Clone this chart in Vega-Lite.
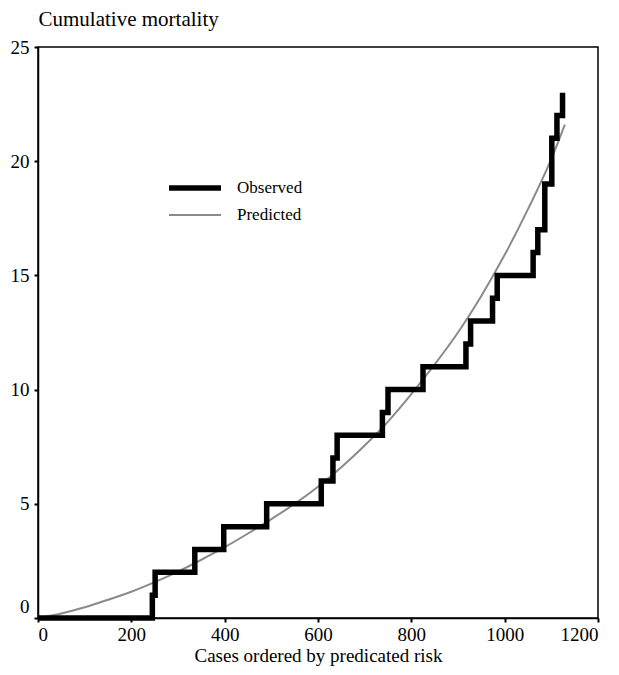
{
  "$schema": "https://vega.github.io/schema/vega-lite/v6.json",
  "autosize": "none",
  "width": 560,
  "height": 571,
  "padding": {"left": 38, "top": 47, "right": 21, "bottom": 57},
  "background": "white",
  "config": {
    "view": {"stroke": "black", "strokeWidth": 1.5},
    "font": "Liberation Serif",
    "axis": {"grid": false, "domainColor": "black", "domainWidth": 1.5, "tickColor": "black", "tickWidth": 2, "tickSize": 4, "labelColor": "black", "titleColor": "black", "labelFont": "Liberation Serif", "titleFont": "Liberation Serif", "labelFontSize": 19, "titleFontSize": 19, "titleFontWeight": "normal"},
    "legend": {"labelFont": "Liberation Serif", "labelFontSize": 17, "labelColor": "black"}
  },
  "datasets": {
    "obs": [
      {"series": "Observed", "x": 0, "y": 0},
      {"series": "Observed", "x": 245, "y": 1},
      {"series": "Observed", "x": 251, "y": 2},
      {"series": "Observed", "x": 336, "y": 3},
      {"series": "Observed", "x": 398, "y": 4},
      {"series": "Observed", "x": 490, "y": 5},
      {"series": "Observed", "x": 607, "y": 6},
      {"series": "Observed", "x": 632, "y": 7},
      {"series": "Observed", "x": 641, "y": 8},
      {"series": "Observed", "x": 738, "y": 9},
      {"series": "Observed", "x": 750, "y": 10},
      {"series": "Observed", "x": 825, "y": 11},
      {"series": "Observed", "x": 917, "y": 12},
      {"series": "Observed", "x": 927, "y": 13},
      {"series": "Observed", "x": 974, "y": 14},
      {"series": "Observed", "x": 984, "y": 15},
      {"series": "Observed", "x": 1061, "y": 16},
      {"series": "Observed", "x": 1071, "y": 17},
      {"series": "Observed", "x": 1086, "y": 19},
      {"series": "Observed", "x": 1101, "y": 21},
      {"series": "Observed", "x": 1112, "y": 22},
      {"series": "Observed", "x": 1124, "y": 23}
    ],
    "pred": [
      {"series": "Predicted", "x": 0, "y": 0},
      {"series": "Predicted", "x": 50, "y": 0.2},
      {"series": "Predicted", "x": 100, "y": 0.47},
      {"series": "Predicted", "x": 150, "y": 0.8},
      {"series": "Predicted", "x": 200, "y": 1.15},
      {"series": "Predicted", "x": 250, "y": 1.57},
      {"series": "Predicted", "x": 300, "y": 2.03},
      {"series": "Predicted", "x": 350, "y": 2.55},
      {"series": "Predicted", "x": 400, "y": 3.1},
      {"series": "Predicted", "x": 450, "y": 3.7},
      {"series": "Predicted", "x": 500, "y": 4.33},
      {"series": "Predicted", "x": 550, "y": 5.0},
      {"series": "Predicted", "x": 600, "y": 5.75},
      {"series": "Predicted", "x": 650, "y": 6.6},
      {"series": "Predicted", "x": 700, "y": 7.55},
      {"series": "Predicted", "x": 750, "y": 8.6},
      {"series": "Predicted", "x": 800, "y": 9.8},
      {"series": "Predicted", "x": 850, "y": 11.1},
      {"series": "Predicted", "x": 900, "y": 12.5},
      {"series": "Predicted", "x": 950, "y": 14.1},
      {"series": "Predicted", "x": 1000, "y": 15.9},
      {"series": "Predicted", "x": 1050, "y": 17.9},
      {"series": "Predicted", "x": 1100, "y": 20.1},
      {"series": "Predicted", "x": 1129, "y": 21.6}
    ]
  },
  "encoding": {
    "x": {"field": "x", "type": "quantitative", "scale": {"domain": [0, 1200], "nice": false}, "axis": {"values": [0, 200, 400, 600, 800, 1000, 1200], "format": "d", "title": "Cases ordered by predicated risk", "labelPadding": 3, "titlePadding": 2}},
    "y": {"field": "y", "type": "quantitative", "scale": {"domain": [0, 25], "nice": false}, "axis": {"values": [0, 5, 10, 15, 20, 25], "title": "Cumulative mortality", "titleFontSize": 21, "titleAngle": 0, "titleAlign": "left", "titleBaseline": "middle", "titleX": 0, "titleY": -28, "labelPadding": 5, "labelOffset": {"condition": {"test": "datum.value == 0", "value": -12}, "value": 0}}},
    "color": {"field": "series", "type": "nominal", "scale": {"domain": ["Observed", "Predicted"], "range": ["black", "#8a8a8a"]}, "legend": {"title": null, "orient": "none", "legendX": 128, "legendY": 130, "symbolType": "stroke", "symbolSize": 2704, "clipHeight": 22, "rowPadding": 5, "labelOffset": 13}},
    "strokeWidth": {"field": "series", "type": "nominal", "scale": {"domain": ["Observed", "Predicted"], "range": [5.5, 2]}, "legend": {"title": null, "orient": "none", "legendX": 128, "legendY": 130, "symbolType": "stroke", "symbolSize": 2704, "clipHeight": 22, "rowPadding": 5, "labelOffset": 13}}
  },
  "layer": [
    {"data": {"name": "pred"}, "mark": {"type": "line", "interpolate": "monotone"}},
    {"data": {"name": "obs"}, "mark": {"type": "line", "interpolate": "step-after", "strokeJoin": "miter", "strokeCap": "butt"}}
  ]
}
